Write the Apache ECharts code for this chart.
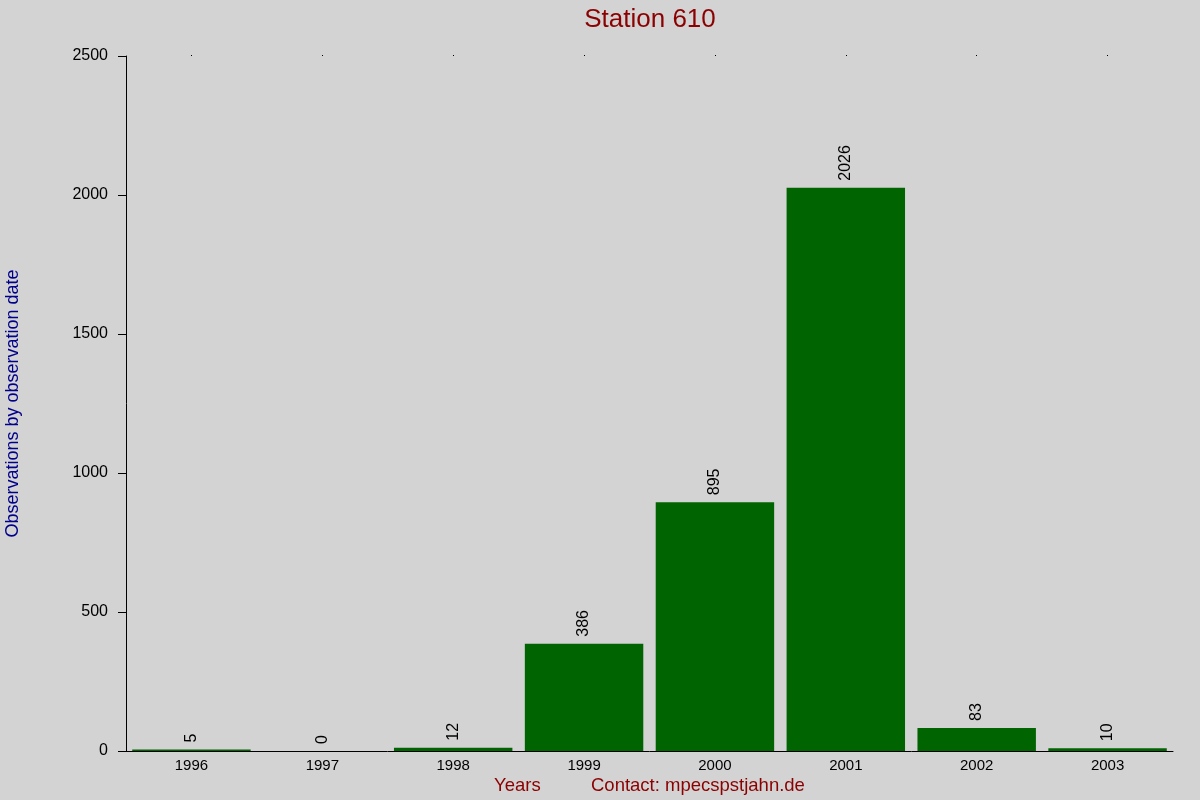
<!DOCTYPE html>
<html><head><meta charset="utf-8">
<script src="https://cdn.jsdelivr.net/npm/echarts@6/dist/echarts.min.js"></script>
<style>html,body{margin:0;padding:0;background:#d3d3d3;}#c{width:1200px;height:800px;}</style>
</head><body><div id="c"></div>
<script>
const categories = ['1996','1997','1998','1999','2000','2001','2002','2003'];
const values = [5, 0, 12, 386, 895, 2026, 83, 10];
const yTicks = [0, 500, 1000, 1500, 2000, 2500];

const chart = echarts.init(document.getElementById('c'));
const font = 'Liberation Sans, Arial, sans-serif';
chart.setOption({
  backgroundColor: '#d3d3d3',
  animation: false,
  title: {
    text: 'Station 610', left: 645, top: 2, textAlign: 'center',
    textStyle: {color: '#8b0000', fontSize: 26, fontWeight: 'normal', fontFamily: font}
  },
  grid: {left: 126, right: 27, top: 56, bottom: 49, outerBoundsMode: 'none', containLabel: false},
  xAxis: [{
    type: 'category', data: categories,
    axisLine: {lineStyle: {color: '#000', width: 1}},
    axisTick: {show: false},
    axisLabel: {color: '#000', fontSize: 15, fontFamily: font, margin: 7}
  }, {
    type: 'category', data: categories, position: 'top',
    axisLine: {show: false},
    axisTick: {show: true, alignWithLabel: true, length: 1, lineStyle: {color: '#000'}},
    axisLabel: {show: false}
  }],
  yAxis: {
    type: 'value', min: yTicks[0], max: yTicks[yTicks.length - 1], interval: 500,
    name: 'Observations by observation date', nameLocation: 'middle', nameGap: 104,
    nameTextStyle: {color: '#00008b', fontSize: 18, fontFamily: font},
    axisLine: {show: true, lineStyle: {color: '#000', width: 1}},
    axisTick: {show: true, length: 8, lineStyle: {color: '#000'}},
    axisLabel: {color: '#000', fontSize: 16, fontFamily: font, margin: 18, formatter: v => String(v)},
    splitLine: {show: false}
  },
  series: [{
    type: 'bar', data: values, barWidth: '90.5%',
    itemStyle: {color: '#006400'},
    label: {
      show: true, position: 'top', rotate: 90, align: 'left', verticalAlign: 'middle',
      distance: 7, color: '#000', fontSize: 16, fontFamily: font
    }
  }],
  graphic: [
    {type: 'text', left: 494, top: 776, style: {text: 'Years', fill: '#8b0000', font: '18.5px ' + font}},
    {type: 'text', left: 591, top: 776, style: {text: 'Contact: mpecspstjahn.de', fill: '#8b0000', font: '18.5px ' + font}}
  ]
});
</script></body></html>
